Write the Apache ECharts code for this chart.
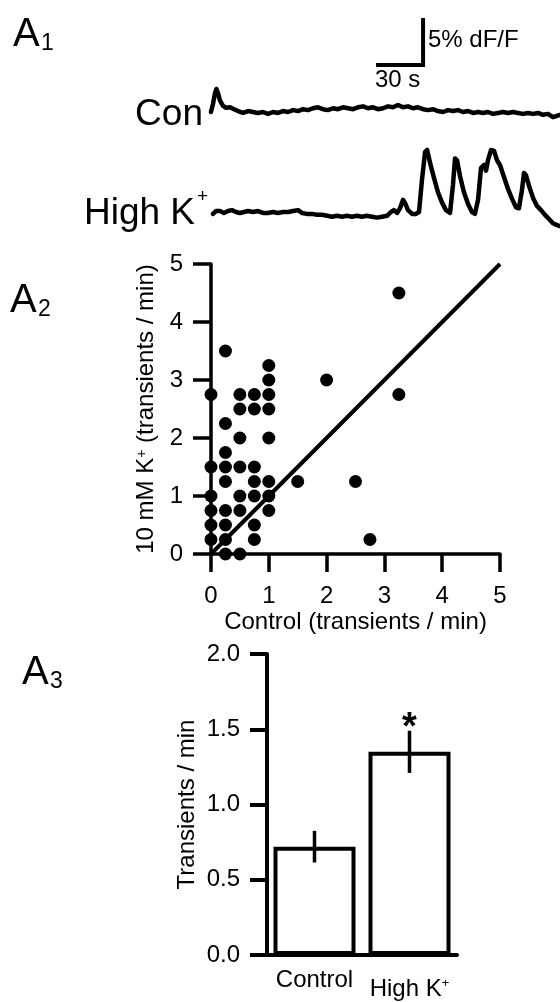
<!DOCTYPE html>
<html><head><meta charset="utf-8">
<script src="https://cdn.jsdelivr.net/npm/echarts@6/dist/echarts.min.js"></script>
<style>html,body{margin:0;padding:0;background:#fff}#c{width:560px;height:1002px}</style>
</head><body><div id="c"></div>
<script>
// ---- Panel A1: example traces (time in s, dF/F in %) ----
const conTime = [0.6,1.9,3.2,4.1,5.1,6.4,8.3,10.2,12.8,15.3,17.9,21.1,24.3,27.4,30.6,33.8,37.0,40.2,43.4,46.6,49.8,53.0,56.2,59.4,62.6,65.7,68.9,72.1,75.3,78.5,81.7,84.9,88.1,91.3,94.5,97.7,100.8,104.0,107.2,110.4,113.6,116.8,120.0,123.2,126.4,129.6,132.8,136.0,139.1,142.3,145.5,148.7,151.9,155.1,158.3,161.5,164.7,167.9,171.1,174.3,177.4,180.6,183.8,187.0,190.2,193.4,196.6,199.8,203.0,206.2,209.4,212.5,215.7,218.9,220.8,223.4];
const conDff  = [0.0,0.85,2.0,2.45,2.0,1.2,0.65,0.45,0.5,0.3,0.1,-0.1,0.1,0.0,-0.1,0.0,-0.2,0.0,-0.1,0.1,0.0,0.2,0.1,0.3,0.2,0.4,0.5,0.3,0.2,0.4,0.3,0.5,0.4,0.3,0.5,0.6,0.4,0.5,0.3,0.4,0.6,0.5,0.75,0.5,0.6,0.4,0.5,0.3,0.2,0.3,0.1,0.0,0.2,0.1,0.2,0.0,0.1,-0.1,0.0,-0.1,0.0,-0.2,-0.1,0.0,-0.1,0.0,-0.1,-0.2,-0.1,-0.2,-0.1,-0.3,-0.2,-0.55,-0.45,-0.3];
const highKTime = [1.9,3.8,6.4,8.9,11.5,14.0,16.6,19.1,21.7,24.3,27.4,30.6,33.8,37.0,40.2,43.4,46.6,49.8,53.0,56.2,58.7,61.9,65.1,68.3,71.5,74.7,77.9,81.1,84.3,87.4,90.6,93.8,97.0,100.2,103.4,106.6,109.8,113.0,115.5,117.4,119.4,121.3,123.2,124.5,126.4,129.0,131.5,133.4,135.3,137.3,138.6,140.5,143.0,145.5,148.1,150.6,153.2,155.1,156.4,157.7,159.6,162.1,164.7,167.2,169.1,171.1,173.0,174.9,176.2,177.4,179.4,181.3,183.2,185.1,187.7,190.2,192.8,195.3,197.2,199.1,200.4,201.7,203.6,206.2,208.7,211.3,213.8,216.4,218.9,221.5,223.4];
const highKDff  = [-0.2,0.1,0.1,-0.1,0.1,0.2,0.0,-0.1,0.0,0.1,0.0,0.1,-0.1,-0.1,0.0,-0.1,0.0,0.0,0.1,0.2,-0.1,-0.2,-0.2,-0.3,-0.3,-0.4,-0.5,-0.4,-0.5,-0.4,-0.5,-0.4,-0.5,-0.4,-0.5,-0.6,-0.5,-0.4,0.0,0.2,-0.1,0.4,1.3,0.95,0.2,-0.2,-0.2,0.0,3.4,6.4,6.6,5.2,3.6,2.1,1.0,0.2,-0.1,2.9,5.7,5.5,3.8,2.1,0.85,0.0,-0.2,1.3,4.7,5.0,4.4,5.5,6.6,6.5,5.5,5.0,3.7,2.45,1.4,0.5,0.4,2.3,4.15,3.9,2.8,1.5,0.65,0.2,-0.3,-0.75,-1.2,-1.4,-1.5];
const scaleBarTime = [106, 136, 136];
const scaleBarDff  = [5, 5, 10];

// ---- Panel A2: per-cell transient rates ----
const ctrlRate = [0,0,0,0,0,0, 0.25,0.25,0.25,0.25,0.25,0.25,0.25,0.25,0.25, 0.5,0.5,0.5,0.5,0.5,0.5,0.5, 0.75,0.75,0.75,0.75,0.75,0.75,0.75, 1,1,1,1,1,1,1,1, 1.5, 2, 2.5, 2.75, 3.25, 3.25];
const kRate    = [2.75,1.5,1,0.75,0.5,0.25, 3.5,2.25,1.75,1.5,1.25,0.75,0.5,0.25,0, 2.75,2.5,2,1.5,1,0.75,0, 2.75,2.5,1.5,1.25,1,0.5,0.25, 3.25,3,2.75,2.5,2,1.25,1,0.75, 1.25, 3, 1.25, 0.25, 4.5, 2.75];
const unityLine = [0, 5];

// ---- Panel A3: mean transient rate ----
const groups = ['Control', 'High K+'];
const groupMeans = [0.72, 1.35];
const groupSems = [0.105, 0.14];
const groupSig = ['', '*'];

const FF = 'Liberation Sans, Arial, sans-serif';
const FS = 24;
const zip = (a, b) => a.map((v, i) => [v, b[i]]);
const supFmt = v => v.endsWith('+') ? '{n|' + v.slice(0, -1) + '}{s|+}' : '{n|' + v + '}';

const hiddenAxis = { show: false };
const blackAxis = (len, w) => ({
  axisLine: { show: true, onZero: true, lineStyle: { color: '#000', width: w } },
  axisTick: { show: true, length: len, lineStyle: { color: '#000', width: w } },
  splitLine: { show: false }
});

const chart = echarts.init(document.getElementById('c'), null, { renderer: 'canvas' });
chart.setOption({
  animation: false,
  backgroundColor: '#fff',
  textStyle: { fontFamily: FF, color: '#000' },
  grid: [
    { left: 210, width: 350, top: 8.6, height: 122.2, outerBoundsMode: 'none' },
    { left: 210, width: 350, top: 136.8, height: 94, outerBoundsMode: 'none' },
    { left: 211, width: 289, top: 264, height: 290, outerBoundsMode: 'none' },
    { left: 267, width: 190, top: 654, height: 301, outerBoundsMode: 'none' }
  ],
  xAxis: [
    Object.assign({ type: 'value', gridIndex: 0, min: 0, max: 223.4 }, hiddenAxis),
    Object.assign({ type: 'value', gridIndex: 1, min: 0, max: 223.4 }, hiddenAxis),
    Object.assign({
      type: 'value', gridIndex: 2, min: 0, max: 5, interval: 1,
      name: 'Control (transients / min)', nameLocation: 'middle', nameGap: 56,
      nameTextStyle: { fontSize: FS, color: '#000', fontFamily: FF },
      axisLabel: { fontSize: FS, color: '#000', margin: 30, fontFamily: FF }
    }, blackAxis(18, 3.5)),
    Object.assign({
      type: 'category', gridIndex: 3,
      data: [{ value: groups[0] }, { value: groups[1], textStyle: { padding: [9, 0, 0, 0] } }],
      axisLabel: {
        margin: 13, interval: 0, formatter: supFmt, color: '#000', hideOverlap: false,
        rich: {
          n: { fontSize: FS, fontFamily: FF, color: '#000' },
          s: { fontSize: 13, fontFamily: FF, color: '#000', verticalAlign: 'top' }
        }
      }
    }, blackAxis(0, 4), { axisTick: { show: false } })
  ],
  yAxis: [
    Object.assign({ type: 'value', gridIndex: 0, min: -2, max: 11 }, hiddenAxis),
    Object.assign({ type: 'value', gridIndex: 1, min: -2, max: 8 }, hiddenAxis),
    Object.assign({
      type: 'value', gridIndex: 2, min: 0, max: 5, interval: 1,
      name: '{n|10 mM K}{s|+}{n| (transients / min)}', nameLocation: 'middle', nameGap: 40,
      nameTextStyle: { rich: { n: { fontSize: FS, fontFamily: FF, color: '#000' }, s: { fontSize: 14, fontFamily: FF, color: '#000', verticalAlign: 'top' } } },
      axisLabel: { fontSize: FS, color: '#000', margin: 28, fontFamily: FF }
    }, blackAxis(18, 3.5)),
    Object.assign({
      type: 'value', gridIndex: 3, min: 0, max: 2, interval: 0.5,
      name: 'Transients / min', nameLocation: 'middle', nameGap: 68,
      nameTextStyle: { fontSize: FS, color: '#000', fontFamily: FF },
      axisLabel: { fontSize: FS, color: '#000', margin: 27, fontFamily: FF, formatter: v => v.toFixed(1) }
    }, blackAxis(17, 4))
  ],
  series: [
    { type: 'line', xAxisIndex: 0, yAxisIndex: 0, data: zip(conTime, conDff), showSymbol: false, smooth: false,
      lineStyle: { color: '#000', width: 4.5, join: 'round', cap: 'round' } },
    { type: 'line', xAxisIndex: 0, yAxisIndex: 0, data: zip(scaleBarTime, scaleBarDff), showSymbol: false,
      lineStyle: { color: '#000', width: 4, join: 'miter' } },
    { type: 'line', xAxisIndex: 1, yAxisIndex: 1, data: zip(highKTime, highKDff), showSymbol: false, smooth: false,
      lineStyle: { color: '#000', width: 4.5, join: 'round', cap: 'round' } },
    { type: 'scatter', xAxisIndex: 2, yAxisIndex: 2, data: zip(ctrlRate, kRate), symbolSize: 13,
      itemStyle: { color: '#000', opacity: 1 }, z: 3 },
    { type: 'line', xAxisIndex: 2, yAxisIndex: 2, data: zip(unityLine, unityLine), showSymbol: false,
      lineStyle: { color: '#000', width: 4 }, z: 2 },
    { type: 'bar', xAxisIndex: 3, yAxisIndex: 3, data: groupMeans, barWidth: 82,
      itemStyle: { color: '#fff', borderColor: '#000', borderWidth: 4 } },
    { type: 'custom', xAxisIndex: 3, yAxisIndex: 3, z: 5,
      data: groups.map((g, i) => [i, groupMeans[i], groupSems[i]]),
      renderItem: function (params, api) {
        const i = api.value(0), m = api.value(1), s = api.value(2);
        const lo = api.coord([i, m - s]);
        const hi = api.coord([i, m + s]);
        const children = [{ type: 'line', shape: { x1: lo[0], y1: lo[1], x2: hi[0], y2: hi[1] }, style: { stroke: '#000', lineWidth: 3.5 } }];
        const sig = groupSig[params.dataIndex];
        if (sig) children.push({ type: 'text', style: { text: sig, x: hi[0], y: hi[1] - 2, align: 'center', verticalAlign: 'middle', fontSize: 38, fontWeight: 'bold', fontFamily: FF, fill: '#000' } });
        return { type: 'group', children: children };
      } }
  ],
  graphic: [
    { type: 'text', style: { text: 'A', x: 13, y: 35, fontSize: 40, fontFamily: FF, fill: '#000', verticalAlign: 'middle' } },
    { type: 'text', style: { text: '1', x: 41, y: 44, fontSize: 23, fontFamily: FF, fill: '#000', verticalAlign: 'middle' } },
    { type: 'text', style: { text: 'A', x: 10, y: 301, fontSize: 40, fontFamily: FF, fill: '#000', verticalAlign: 'middle' } },
    { type: 'text', style: { text: '2', x: 38, y: 310, fontSize: 23, fontFamily: FF, fill: '#000', verticalAlign: 'middle' } },
    { type: 'text', style: { text: 'A', x: 22, y: 673, fontSize: 40, fontFamily: FF, fill: '#000', verticalAlign: 'middle' } },
    { type: 'text', style: { text: '3', x: 50, y: 682, fontSize: 23, fontFamily: FF, fill: '#000', verticalAlign: 'middle' } },
    { type: 'text', style: { text: 'Con', x: 203, y: 115, fontSize: 37, fontFamily: FF, fill: '#000', align: 'right', verticalAlign: 'middle' } },
    { type: 'text', style: { text: 'High K', x: 195, y: 214, fontSize: 37, fontFamily: FF, fill: '#000', align: 'right', verticalAlign: 'middle' } },
    { type: 'text', style: { text: '+', x: 197, y: 197, fontSize: 19, fontFamily: FF, fill: '#000', align: 'left', verticalAlign: 'middle' } },
    { type: 'text', style: { text: '5% dF/F', x: 428, y: 40, fontSize: 24, fontFamily: FF, fill: '#000', verticalAlign: 'middle' } },
    { type: 'text', style: { text: '30 s', x: 375, y: 80, fontSize: 24, fontFamily: FF, fill: '#000', verticalAlign: 'middle' } }
  ]
});
</script></body></html>
